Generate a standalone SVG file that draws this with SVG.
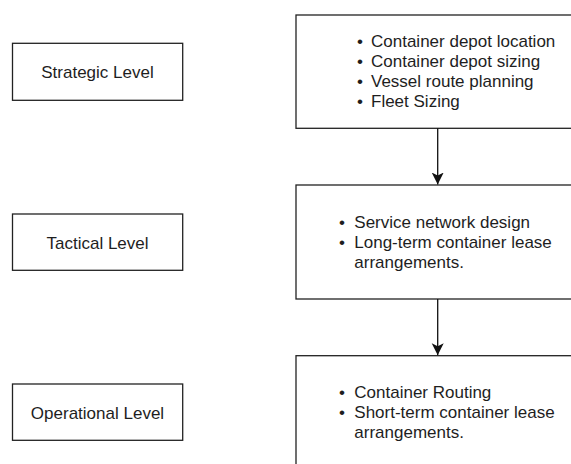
<svg xmlns="http://www.w3.org/2000/svg" width="571" height="464" viewBox="0 0 571 464">
  <style>
    .box { fill: #ffffff; stroke: #222222; stroke-width: 1.3; }
    .label { font-family: "Liberation Sans", Arial, sans-serif; font-size: 17px; fill: #1e1e1e; }
    .mid { text-anchor: middle; }
    .edge { stroke: #111111; stroke-width: 1.3; fill: none; }
  </style>
  <defs>
    <marker id="arrow" markerWidth="12" markerHeight="13" refX="12" refY="6.5" orient="auto" markerUnits="userSpaceOnUse">
      <path d="M0,0.5 L12,6.5 L0,12.5 L3,6.5 Z" fill="#111111"/>
    </marker>
  </defs>
  <rect width="571" height="464" fill="#ffffff"/>

  <!-- level labels -->
  <g id="strategic-level">
    <rect class="box" x="12.5" y="43.3" width="170.2" height="57"/>
    <text class="label mid" x="97.5" y="78">Strategic Level</text>
  </g>
  <g id="tactical-level">
    <rect class="box" x="12.5" y="214" width="170.2" height="56.3"/>
    <text class="label mid" x="97.5" y="249">Tactical Level</text>
  </g>
  <g id="operational-level">
    <rect class="box" x="12.5" y="384" width="170.2" height="56.3"/>
    <text class="label mid" x="97.5" y="419">Operational Level</text>
  </g>

  <!-- decision lists -->
  <g id="strategic-decisions">
    <rect class="box" x="296" y="15" width="290" height="113.3"/>
    <text class="label">
      <tspan x="357" y="47">•</tspan><tspan x="371" y="47">Container depot location</tspan>
      <tspan x="357" y="67">•</tspan><tspan x="371" y="67">Container depot sizing</tspan>
      <tspan x="357" y="87">•</tspan><tspan x="371" y="87">Vessel route planning</tspan>
      <tspan x="357" y="107">•</tspan><tspan x="371" y="107">Fleet Sizing</tspan>
    </text>
  </g>
  <g id="tactical-decisions">
    <rect class="box" x="296" y="185" width="290" height="114"/>
    <text class="label">
      <tspan x="339" y="227.7">•</tspan><tspan x="354.3" y="227.7">Service network design</tspan>
      <tspan x="339" y="247.7">•</tspan><tspan x="354.3" y="247.7">Long-term container lease</tspan>
      <tspan x="354.3" y="267.7">arrangements.</tspan>
    </text>
  </g>
  <g id="operational-decisions">
    <rect class="box" x="296" y="355.7" width="290" height="130"/>
    <text class="label">
      <tspan x="339" y="397.7">•</tspan><tspan x="354.3" y="397.7">Container Routing</tspan>
      <tspan x="339" y="417.7">•</tspan><tspan x="354.3" y="417.7">Short-term container lease</tspan>
      <tspan x="354.3" y="437.7">arrangements.</tspan>
    </text>
  </g>

  <!-- connectors -->
  <g id="connectors">
    <line class="edge" x1="437.7" y1="128.3" x2="437.7" y2="184.5" marker-end="url(#arrow)"/>
    <line class="edge" x1="437.7" y1="299" x2="437.7" y2="355.2" marker-end="url(#arrow)"/>
  </g>
</svg>
